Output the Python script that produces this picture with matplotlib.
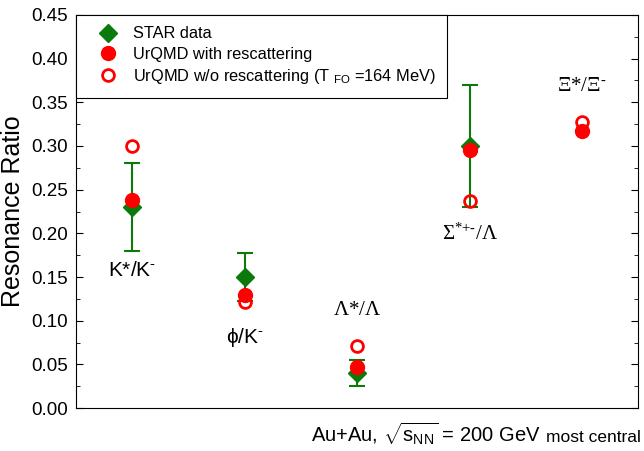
import matplotlib
matplotlib.use("Agg")
import matplotlib.pyplot as plt
from matplotlib.ticker import MultipleLocator, NullLocator

plt.rcParams['font.family'] = ['Liberation Sans', 'DejaVu Sans']
plt.rcParams['mathtext.fontset'] = 'custom'
plt.rcParams['mathtext.rm'] = 'Liberation Serif'
plt.rcParams['mathtext.it'] = 'Liberation Serif:italic'
plt.rcParams['mathtext.sf'] = 'Liberation Sans'

# Data
ratios = ["K*/K-", "phi/K-", "Lambda*/Lambda", "Sigma*/Lambda", "Xi*/Xi-"]
xpos = [1, 2, 3, 4, 5]
star_x = [1, 2, 3, 4]
star_val = [0.23, 0.15, 0.04, 0.30]
star_lo = [0.05, 0.027, 0.015, 0.07]
star_hi = [0.05, 0.027, 0.015, 0.07]
urqmd_resc = [0.238, 0.129, 0.047, 0.295, 0.317]
urqmd_nores = [0.300, 0.122, 0.071, 0.237, 0.327]

labels = [r"$\mathsf{K{*}/K^{‐}}$", r"$\mathsf{\phi/K^{‐}}$", r"$\mathrm{\Lambda{*}/\Lambda}$",
          r"$\mathrm{\Sigma^{{*}{+}{‐}}/\Lambda}$", r"$\mathrm{\Xi{*}/\Xi^{‐}}$"]
label_y = [0.158, 0.081, 0.113, 0.200, 0.369]

fig = plt.figure(figsize=(6.44, 4.51), dpi=100)
ax = fig.add_axes([0.118, 0.095, 0.873, 0.872])

green = '#0a7a0a'
red = '#ff0000'

ax.errorbar(star_x, star_val, yerr=[star_lo, star_hi], fmt='none', ecolor=green,
            elinewidth=1.5, capsize=6, capthick=1.5, zorder=2)
ax.plot(star_x, star_val, 'D', color=green, markersize=9, linestyle='none',
        label='STAR data', zorder=3)
ax.plot(xpos, urqmd_resc, 'o', color=red, markersize=10, linestyle='none',
        label='UrQMD with rescattering', zorder=4)
ax.plot(xpos, urqmd_nores, 'o', markerfacecolor='none', markeredgecolor=red,
        markeredgewidth=2, markersize=8.5, linestyle='none',
        label=r'UrQMD w/o rescattering (T $_{\mathsf{FO}}$ =164 MeV)', zorder=4)

for x, y, t in zip(xpos, label_y, labels):
    ax.text(x, y, t, ha='center', va='center', fontsize=15)

ax.set_xlim(0.5, 5.5)
ax.set_ylim(0, 0.45)
ax.yaxis.set_major_locator(MultipleLocator(0.05))
ax.yaxis.set_minor_locator(MultipleLocator(0.025))
ax.xaxis.set_major_locator(NullLocator())
ax.tick_params(axis='y', which='both', direction='in', right=True, labelsize=13.5, pad=6)
ax.tick_params(axis='y', which='major', length=5)
ax.tick_params(axis='y', which='minor', length=3)
ax.set_yticklabels([f"{v:.2f}" for v in ax.get_yticks()])
ax.set_ylabel('Resonance Ratio', fontsize=18, labelpad=4)

leg = ax.legend(loc='upper left', borderaxespad=0, fontsize=11.8, frameon=True,
                fancybox=False, edgecolor='black', framealpha=1, handletextpad=0.2,
                borderpad=0.7, labelspacing=0.33, handlelength=2.56)
leg.get_frame().set_linewidth(0.8)

fig.text(0.99, 0.02, r'Au+Au, $\sqrt{\mathsf{s}_{\mathsf{NN}}}$ = 200 GeV  ', ha='right',
         va='baseline', fontsize=14.5)
t = fig.text(0.995, 0.02, 'most central', ha='right', va='baseline', fontsize=12.5)
fig.canvas.draw()
bb = t.get_window_extent()
fig.texts[0].set_x(bb.x0 / fig.bbox.width)

fig.savefig('out.png', dpi=100)
